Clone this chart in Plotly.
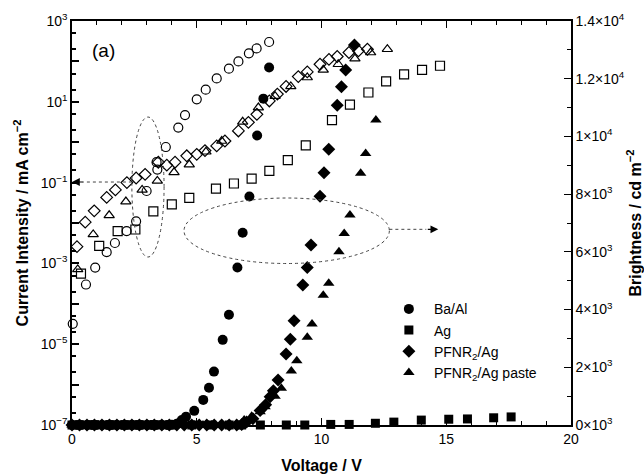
import plotly.graph_objects as go

# ---------------- data ----------------
# Brightness (cd m^-2), filled markers, right axis
bright_baal_v = [0.0, 0.2, 0.4, 0.6, 0.8, 1.0, 1.2, 1.4, 1.6, 1.8, 2.0, 2.2, 2.4, 2.6, 2.8, 3.0, 3.2,
                 3.4, 3.6, 3.8, 4.0, 4.2, 4.4, 4.57, 4.9, 5.26, 5.49, 5.69, 6.04, 6.29, 6.63, 6.84,
                 7.11, 7.42, 7.67, 7.9]
bright_baal = [0, 0, 0, 0, 0, 0, 0, 0, 0, 0, 0, 0, 0, 0, 0, 0, 0,
               0, 0, 0, 10, 40, 170, 290, 490, 870, 1290, 1850, 2950, 3820, 5460, 6660,
               7920, 10030, 11310, 12390]

bright_ag_v = [0.0, 0.8, 1.6, 2.4, 3.2, 4.0, 4.8, 5.6, 6.3, 6.8, 7.55, 8.59, 9.33, 10.37, 11.11,
               12.16, 12.9, 14.0, 15.1, 15.85, 16.9, 17.6]
bright_ag = [0, 0, 0, 0, 0, 0, 0, 0, 0, 0, 0, 0, 0, 20, 20, 60, 100, 170, 200, 210, 250, 280]

bright_pfag_v = [0.0, 0.3, 0.6, 0.9, 1.2, 1.5, 1.8, 2.1, 2.4, 2.7, 3.0, 3.3, 3.6, 3.9, 4.2, 4.5,
                 4.8, 5.1, 5.4, 5.7, 6.0, 6.3, 6.6, 6.8, 7.0, 7.25, 7.54, 7.76, 7.94, 8.07, 8.26,
                 8.58, 8.75, 8.9, 9.25, 9.43, 9.58, 9.94, 10.1, 10.29, 10.63, 10.8, 10.97, 11.32]
bright_pfag = [0, 0, 0, 0, 0, 0, 0, 0, 0, 0, 0, 0, 0, 0, 0, 0,
               0, 0, 0, 0, 0, 0, 0, 20, 100, 220, 500, 700, 980, 1190, 1560,
               2460, 2970, 3610, 4850, 5460, 6240, 7930, 8740, 9560, 11080, 11720, 12300, 13170]

bright_paste_v = [0.0, 0.35, 0.7, 1.05, 1.4, 1.75, 2.1, 2.45, 2.8, 3.15, 3.5, 3.85, 4.2, 4.55,
                  4.9, 5.25, 5.6, 5.95, 6.3, 6.6, 6.9, 7.2, 7.54, 7.74, 8.14, 8.39, 8.79, 9.01,
                  9.43, 9.62, 10.07, 10.29, 10.7, 10.91, 11.14, 11.57, 11.77, 12.18]
bright_paste = [0, 0, 0, 0, 0, 0, 0, 0, 0, 0, 0, 0, 0, 0,
                0, 0, 0, 0, 0, 0, 170, 300, 460, 630, 1000, 1270, 1870, 2230,
                3040, 3500, 4500, 4910, 6000, 6640, 7280, 8720, 9410, 10570]

# Current density (mA cm^-2), open markers, left log axis
cur_baal_v = [0.03, 0.56, 0.93, 1.39, 1.72, 2.19, 2.57, 2.99, 3.42, 3.39, 3.76, 4.26, 4.53, 5.0,
              5.36, 5.8, 6.29, 6.67, 7.09, 7.4, 7.9]
cur_baal = [3.2e-5, 3.0e-4, 7.9e-4, 1.9e-3, 3.2e-3, 6.3e-3, 1.1e-2, 6.2e-2, 0.21, 0.32, 0.76,
            2.3, 4.7, 11.5, 20, 38, 66, 100, 158, 209, 302]

cur_ag_v = [0.36, 1.09, 1.83, 2.54, 3.26, 4.0, 4.7, 5.77, 6.49, 7.2, 7.91, 8.65, 9.37, 10.42,
            11.14, 11.88, 12.59, 13.31, 14.03, 14.75]
cur_ag = [5.6e-4, 2.7e-3, 6.3e-3, 6.9e-3, 1.95e-2, 2.9e-2, 4.2e-2, 7.1e-2, 9.5e-2, 0.126, 0.195,
          0.36, 0.83, 3.5, 8.5, 17, 32, 48, 62, 78]

cur_pfag_v = [0.2, 0.53, 0.89, 1.39, 1.74, 2.2, 2.57, 2.93, 3.46, 3.8, 4.13, 4.6, 5.0, 5.33,
              5.8, 6.13, 6.67, 7.07, 7.41, 7.91, 8.23, 8.58, 9.07, 9.43, 9.94, 10.3, 10.63,
              11.1, 11.48, 11.84]
cur_pfag = [2.6e-3, 1.05e-2, 2.0e-2, 4.3e-2, 6.6e-2, 0.10, 0.13, 0.16, 0.32, 0.27, 0.32, 0.46,
            0.50, 0.62, 0.81, 1.07, 1.9, 3.1, 4.9, 10.5, 15.5, 24, 42, 55, 85, 112, 132, 166,
            182, 200]

cur_paste_v = [0.23, 0.85, 1.49, 2.16, 2.81, 3.42, 4.09, 4.7, 5.37, 6.0, 6.84, 7.47, 8.14, 8.77,
               9.43, 10.07, 10.67, 11.34, 11.97, 12.64]
cur_paste = [7.1e-4, 5.2e-3, 1.55e-2, 3.4e-2, 6.6e-2, 0.11, 0.18, 0.28, 0.58, 1.07, 3.2, 7.2,
             13.8, 24, 40, 62, 85, 117, 166, 200]

legend_names = ["Ba/Al", "Ag", "PFNR<sub>2</sub>/Ag", "PFNR<sub>2</sub>/Ag paste"]

left_tickvals = [1e3, 1e2, 1e1, 1e0, 1e-1, 1e-2, 1e-3, 1e-4, 1e-5, 1e-6, 1e-7]
left_ticktext = ["10<sup>3</sup>", "", "10<sup>1</sup>", "", "10<sup>−1</sup>", "",
                 "10<sup>−3</sup>", "", "10<sup>−5</sup>", "", "10<sup>−7</sup>"]
right_tickvals = [0, 2000, 4000, 6000, 8000, 10000, 12000, 14000]
right_ticktext = ["0×10<sup>3</sup>", "2×10<sup>3</sup>", "4×10<sup>3</sup>", "6×10<sup>3</sup>",
                  "8×10<sup>3</sup>", "1×10<sup>4</sup>", "1.2×10<sup>4</sup>", "1.4×10<sup>4</sup>"]
x_tickvals = [0, 5, 10, 15, 20]

# ---------------- figure ----------------
FONT = "Arial, Liberation Sans, Helvetica, sans-serif"
fig = go.Figure()

open_line = dict(color="black", width=1.2)
for xs, ys, sym, sz in [
    (cur_baal_v, cur_baal, "circle-open", 9),
    (cur_ag_v, cur_ag, "square-open", 9),
    (cur_pfag_v, cur_pfag, "diamond-open", 9),
    (cur_paste_v, cur_paste, "triangle-up-open", 9),
]:
    fig.add_trace(go.Scatter(x=xs, y=ys, mode="markers", yaxis="y", showlegend=False,
                             cliponaxis=False,
                             marker=dict(symbol=sym, size=sz, color="black", line=open_line)))

for xs, ys, sym, sz, nm in [
    (bright_baal_v, bright_baal, "circle", 10, legend_names[0]),
    (bright_ag_v, bright_ag, "square", 9, legend_names[1]),
    (bright_pfag_v, bright_pfag, "diamond", 10, legend_names[2]),
    (bright_paste_v, bright_paste, "triangle-up", 10, legend_names[3]),
]:
    fig.add_trace(go.Scatter(x=xs, y=ys, mode="markers", yaxis="y2", name=nm,
                             cliponaxis=False,
                             marker=dict(symbol=sym, size=sz, color="black")))

dot = dict(color="#444", width=1, dash="dot")
fig.add_shape(type="circle", xref="x", yref="y2", x0=2.40, x1=3.69, y0=5821, y1=10672, line=dot)
fig.add_shape(type="circle", xref="x", yref="y2", x0=4.49, x1=12.72, y0=5596, y1=7866, line=dot)
fig.add_shape(type="line", xref="x", yref="y2", x0=2.40, x1=0.4, y0=8420, y1=8420, line=dot)
fig.add_shape(type="line", xref="x", yref="y2", x0=12.72, x1=14.2, y0=6781, y1=6781, line=dot)
fig.add_annotation(x=0.0, y=8420, xref="x", yref="y2", ax=12, ay=0, text="", showarrow=True,
                   arrowhead=2, arrowsize=1.3, arrowwidth=1.2, arrowcolor="black")
fig.add_annotation(x=14.68, y=6781, xref="x", yref="y2", ax=-12, ay=0, text="", showarrow=True,
                   arrowhead=2, arrowsize=1.3, arrowwidth=1.2, arrowcolor="black")
fig.add_annotation(x=0.064, y=0.927, xref="paper", yref="paper", text="(a)", showarrow=False,
                   xanchor="center", yanchor="middle",
                   font=dict(size=19, color="black", family=FONT))

axis_common = dict(showline=True, linecolor="black", linewidth=1.5, ticks="inside",
                   tickcolor="black", showgrid=False, zeroline=False, automargin=False,
                   tickfont=dict(size=14, color="black", family=FONT))

fig.update_layout(
    width=644, height=475,
    margin=dict(l=72, r=73, t=21, b=50),
    paper_bgcolor="white", plot_bgcolor="white",
    font=dict(family=FONT, color="black"),
    xaxis=dict(range=[0, 20], tickvals=x_tickvals, ticklen=7, tickwidth=1.2, mirror="ticks",
               minor=dict(ticks="inside", dtick=1, ticklen=4, tickcolor="black"),
               title=dict(text="<b>Voltage / V</b>", font=dict(size=16, family=FONT), standoff=14),
               **axis_common),
    yaxis=dict(type="log", range=[-7, 3], tickvals=left_tickvals, ticktext=left_ticktext,
               ticklen=7, tickwidth=1.5,
               minor=dict(ticks="inside", ticklen=4, tickcolor="black"),
               title=dict(text="<b>Current Intensity / mA cm<sup>−2</sup></b>",
                          font=dict(size=16, family=FONT), standoff=8),
               **axis_common),
    yaxis2=dict(overlaying="y", side="right", range=[0, 14000], tickvals=right_tickvals,
                ticktext=right_ticktext, ticklen=7, tickwidth=1.2,
                minor=dict(ticks="inside", dtick=1000, ticklen=4, tickcolor="black"),
                title=dict(text="<b>Brightness / cd m<sup>−2</sup></b>",
                           font=dict(size=16, family=FONT), standoff=10),
                **axis_common),
    legend=dict(x=0.625, y=0.326, xanchor="left", yanchor="top", bgcolor="rgba(0,0,0,0)",
                itemwidth=40, tracegroupgap=0,
                font=dict(size=14, family=FONT, color="black")),
)

fig.write_html("out.html")
